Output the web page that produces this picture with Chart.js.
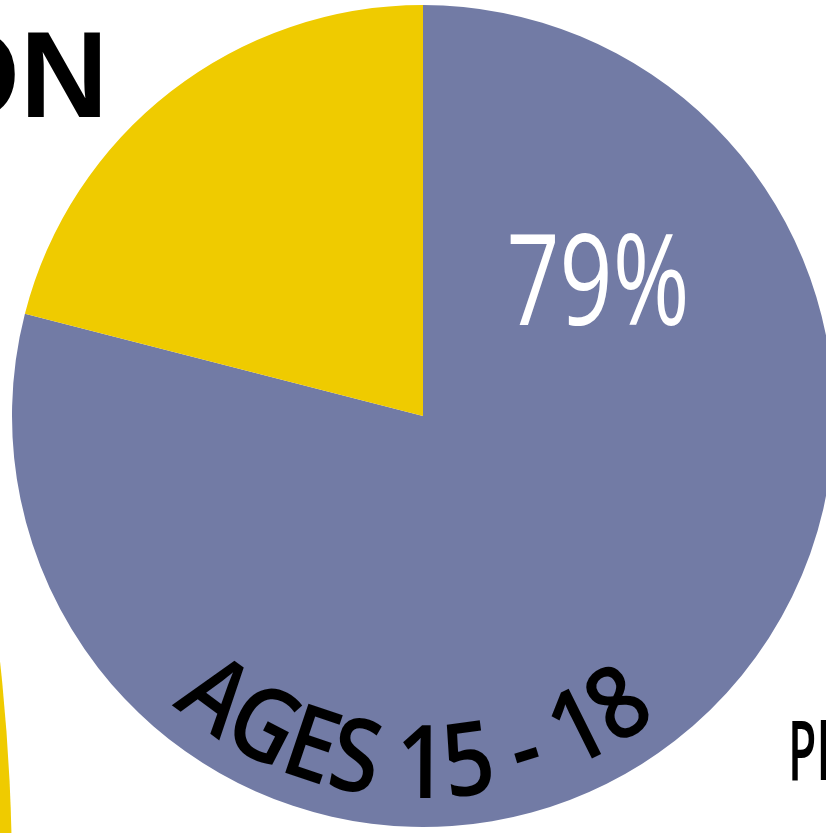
<!DOCTYPE html>
<html>
<head>
<meta charset="utf-8">
<script src="https://cdn.jsdelivr.net/npm/chart.js@4"></script>
<style>
  html, body { margin: 0; padding: 0; background: #fff; overflow: hidden; }
  #wrap { position: relative; width: 826px; height: 833px; overflow: hidden; }
  #pie { position: absolute; left: 0; top: 0; }
</style>
</head>
<body>
<div id="wrap">
  <canvas id="pie" width="846" height="833"></canvas>
</div>
<script>
// data
const labels = ["Ages 15 - 18", "Other"];
const shares = [79, 21];
const sliceColors = ["#727ba5", "#efcb00"];
const valueLabel = "79%";
const ringLabel = "AGES 15 - 18";

// decorations + texts drawn on top of the pie
const textPlugin = {
  id: "texts",
  beforeDraw(chart) {
    const ctx = chart.ctx;
    // edge of the neighbouring yellow circle, bottom-left
    ctx.save();
    ctx.fillStyle = "#efcb00";
    ctx.beginPath();
    ctx.arc(-1988, 880, 2000, 0, Math.PI * 2);
    ctx.fill();
    ctx.restore();
  },
  afterDraw(chart) {
    const ctx = chart.ctx;
    const arc = chart.getDatasetMeta(0).data[0];
    const cx = arc.x, cy = arc.y;

    // title fragment top-left
    ctx.save();
    ctx.fillStyle = "#000";
    ctx.font = 'bold 122px "Liberation Sans"';
    ctx.textAlign = "right";
    ctx.textBaseline = "alphabetic";
    ctx.fillText("ON", 108, 117);
    ctx.restore();

    // big percentage
    ctx.save();
    ctx.fillStyle = "#fff";
    ctx.font = '500 126px "Open Sans"';
    ctx.textAlign = "center";
    ctx.textBaseline = "alphabetic";
    const w = ctx.measureText(valueLabel).width;
    ctx.translate(598, 325);
    ctx.scale(183 / w, 1);
    ctx.fillText(valueLabel, 0, 0);
    ctx.restore();

    // curved label along the bottom
    const r = 382;
    const thetaMid = 1.5 * Math.PI / 180;
    const arcLen = 79 * Math.PI / 180 * r;
    ctx.save();
    ctx.fillStyle = "#000";
    ctx.font = '600 102px "Open Sans"';
    ctx.textAlign = "center";
    ctx.textBaseline = "alphabetic";
    const chars = [...ringLabel];
    const widths = chars.map(c => ctx.measureText(c).width);
    const total = widths.reduce((a, b) => a + b, 0);
    const sx = arcLen / total;
    let theta = thetaMid + (arcLen / 2) / r;
    chars.forEach((c, i) => {
      const cw = widths[i] * sx;
      const mid = theta - (cw / 2) / r;
      ctx.save();
      ctx.translate(cx - r * Math.sin(mid), cy + r * Math.cos(mid));
      ctx.rotate(mid);
      ctx.scale(sx, 1);
      ctx.fillText(c, 0, 0);
      ctx.restore();
      theta -= cw / r;
    });
    ctx.restore();

    // cut-off word bottom-right
    ctx.save();
    ctx.fillStyle = "#000";
    ctx.font = '600 84px "Open Sans"';
    ctx.textAlign = "left";
    ctx.textBaseline = "alphabetic";
    ctx.translate(788, 780);
    ctx.scale(0.55, 1);
    ctx.fillText("PR", 0, 0);
    ctx.restore();
  }
};

new Chart(document.getElementById("pie"), {
  type: "pie",
  data: {
    labels: labels,
    datasets: [
      {
        data: shares,
        backgroundColor: sliceColors,
        borderWidth: 0,
        hoverOffset: 0,
        offset: 0,
      },
    ],
  },
  options: {
    responsive: false,
    animation: false,
    devicePixelRatio: 1,
    layout: { padding: { left: 12, right: 12, top: 5, bottom: 6 } },
    plugins: {
      legend: { display: false },
      tooltip: { enabled: false },
    },
  },
  plugins: [textPlugin],
});
</script>
</body>
</html>
